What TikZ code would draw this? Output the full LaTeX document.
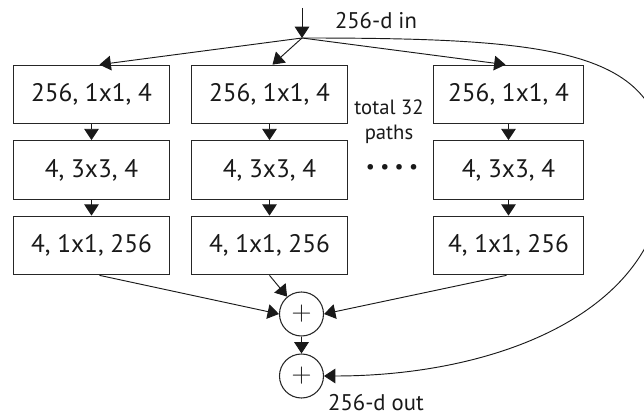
\documentclass[tikz,border=0pt]{standalone}
\usepackage{fontspec}
\setmainfont{PT Sans}
\usetikzlibrary{arrows.meta,calc}

\begin{document}
\begin{tikzpicture}[x=0.75pt,y=-0.75pt,
                    layer/.style={draw=black!85,line width=0.8pt,minimum width=117pt,
                                  minimum height=44pt,text=black!90,font=\fontsize{19}{23}\selectfont},
                    sum/.style={draw=black!85,line width=0.8pt,circle,minimum size=33pt,inner sep=0pt,
                                text=black!90,font=\fontsize{20}{20}\selectfont},
                    link/.style={-{Triangle[length=8.5pt,width=11pt]},line width=0.7pt,draw=black!90},
                    label/.style={text=black!90,font=\fontsize{17}{20}\selectfont}]
      \useasboundingbox (0,0) rectangle (644,416);

      % input
      \coordinate (in) at (302,8);
      \coordinate (split) at (302,38);
      \node[label] (inlabel) at (376,21) {256-d in};
      \draw[link] (in) -- (split);

      % path 1
      \node[layer] (c1r1) at (91.5,94.5) {256, 1x1, 4};
      \node[layer] (c1r2) at (91.5,170) {4, 3x3, 4};
      \node[layer] (c1r3) at (91.5,245.5) {4, 1x1, 256};
      \draw[link] (c1r1) -- (c1r2);
      \draw[link] (c1r2) -- (c1r3);

      % path 2
      \node[layer] (c2r1) at (269.5,94.5) {256, 1x1, 4};
      \node[layer] (c2r2) at (269.5,170) {4, 3x3, 4};
      \node[layer] (c2r3) at (269.5,245.5) {4, 1x1, 256};
      \draw[link] (c2r1) -- (c2r2);
      \draw[link] (c2r2) -- (c2r3);

      % path 32
      \node[layer,minimum width=113pt] (c3r1) at (508.5,94.5) {256, 1x1, 4};
      \node[layer,minimum width=113pt] (c3r2) at (508.5,170) {4, 3x3, 4};
      \node[layer,minimum width=113pt] (c3r3) at (508.5,245.5) {4, 1x1, 256};
      \draw[link] (c3r1) -- (c3r2);
      \draw[link] (c3r2) -- (c3r3);

      \node[text=black!90,font=\fontsize{15.5}{19}\selectfont,align=center] (paths) at (389,122) {total 32\\paths};
      \node[text=black!90,font=\fontsize{15}{18}\selectfont] (dots) at (392,169) {• • • •};

      \draw[link] (split) -- ($(c1r1.north)+(8,0)$);
      \draw[link] (split) -- ($(c2r1.north)+(3,0)$);
      \draw[link] (split) -- ($(c3r1.north)+(-3,0)$);

      % aggregation
      \node[sum] (sum1) at (301.5,314) {$+$};
      \node[sum] (sum2) at (301.5,376) {$+$};
      \node[label] (outlabel) at (376,403) {256-d out};

      \draw[link] ($(c1r3.south)+(8,0)$) -- (sum1.west);
      \draw[link] (c2r3.south) -- (sum1);
      \draw[link] ($(c3r3.south)+(-2,0)$) -- (sum1.east);
      \draw[link] (sum1) -- (sum2);

      % shortcut
      \draw[link] (split) .. controls (560,38) and (665,50) .. (665,170)
                          .. controls (665,310) and (500,376) .. (sum2.east);
    \end{tikzpicture}
\end{document}
